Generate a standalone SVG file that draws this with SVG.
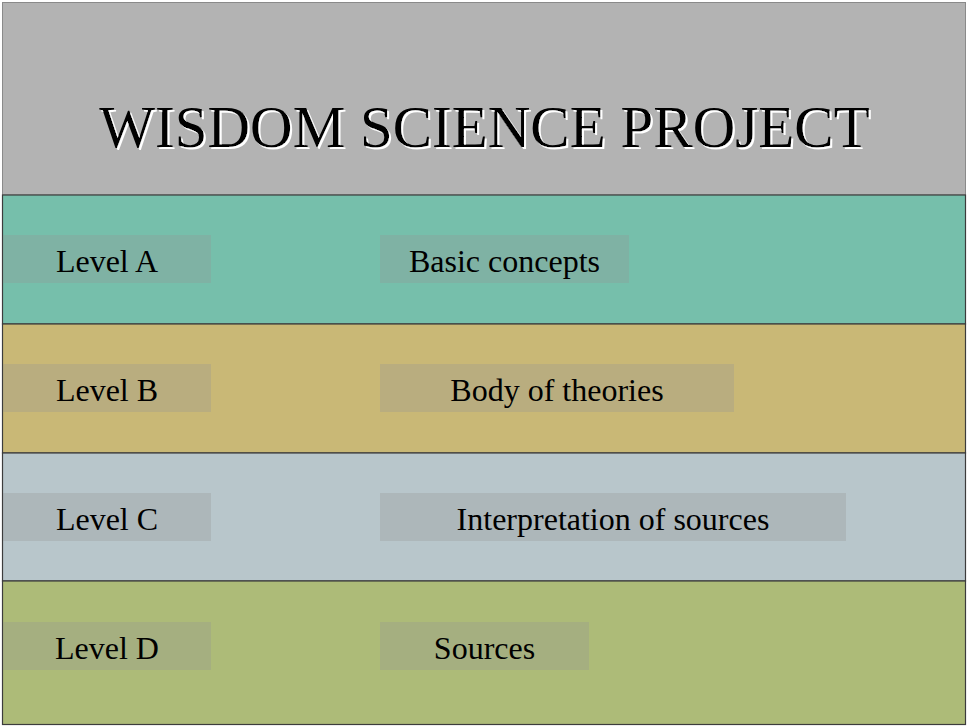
<svg xmlns="http://www.w3.org/2000/svg" width="967" height="726" viewBox="0 0 967 726">
<style>
.band{stroke:#3c3c3c;stroke-width:1.2}
.box{fill:#969696;fill-opacity:0.3}
.lbl{font-family:"Liberation Serif","Times New Roman",serif;font-size:32px;fill:#000;text-anchor:middle}
.title{font-family:"Liberation Serif","Times New Roman",serif;font-size:59px;text-anchor:middle}
</style>
<defs>
<filter id="shadow" x="-5%" y="-20%" width="110%" height="140%">
<feDropShadow dx="2" dy="2" stdDeviation="0.4" flood-color="#ffffff" flood-opacity="1"/>
</filter>
</defs>
<rect x="0" y="0" width="967" height="726" fill="#ffffff"/>
<g id="title">
<rect x="2.5" y="2.5" width="963" height="192.5" fill="#b3b3b3" stroke="#8a8a8a" stroke-width="1"/>
<text class="title" x="484.5" y="147" fill="#000000" filter="url(#shadow)">WISDOM SCIENCE PROJECT</text>
</g>
<g id="levelA">
<rect class="band" x="2.5" y="195" width="963" height="129" fill="#76bfab"/>
<rect class="box" x="3" y="235" width="208" height="48"/>
<text class="lbl" x="107" y="272">Level A</text>
<rect class="box" x="380" y="235" width="249" height="48"/>
<text class="lbl" x="504.5" y="272">Basic concepts</text>
</g>
<g id="levelB">
<rect class="band" x="2.5" y="324" width="963" height="129" fill="#c9b876"/>
<rect class="box" x="3" y="364" width="208" height="48"/>
<text class="lbl" x="107" y="401">Level B</text>
<rect class="box" x="380" y="364" width="354" height="48"/>
<text class="lbl" x="557" y="401">Body of theories</text>
</g>
<g id="levelC">
<rect class="band" x="2.5" y="453" width="963" height="128" fill="#b8c6cb"/>
<rect class="box" x="3" y="493" width="208" height="48"/>
<text class="lbl" x="107" y="530">Level C</text>
<rect class="box" x="380" y="493" width="466" height="48"/>
<text class="lbl" x="613" y="530">Interpretation of sources</text>
</g>
<g id="levelD">
<rect class="band" x="2.5" y="581" width="963" height="143.5" fill="#adbb78"/>
<rect class="box" x="3" y="622" width="208" height="48"/>
<text class="lbl" x="107" y="659">Level D</text>
<rect class="box" x="380" y="622" width="209" height="48"/>
<text class="lbl" x="484.5" y="659">Sources</text>
</g>
<g id="connectors"></g>
</svg>
